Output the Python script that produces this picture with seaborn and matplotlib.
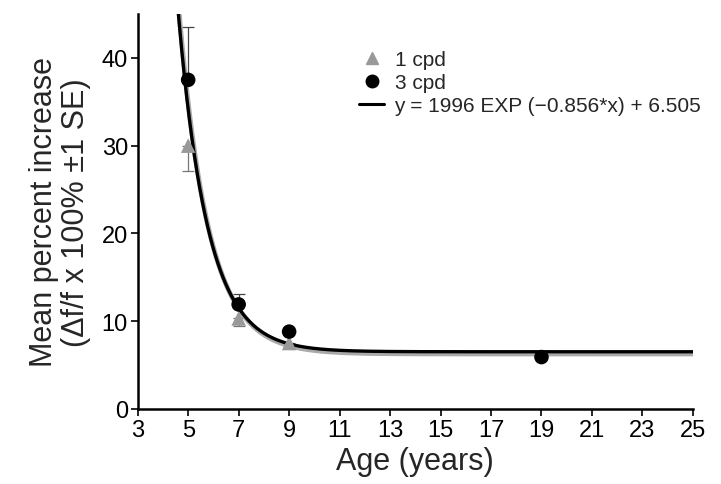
import numpy as np
import pandas as pd
import matplotlib
matplotlib.use("Agg")
import matplotlib.pyplot as plt
import seaborn as sns
from matplotlib.lines import Line2D

sns.set_theme(style="ticks")
plt.rcParams['font.family'] = ['Liberation Sans', 'DejaVu Sans']

age_1cpd = [5, 7, 9]
val_1cpd = [30.0, 10.3, 7.5]
se_1cpd = [2.9, 0.9, 0.3]

age_3cpd = [5, 7, 9, 19]
val_3cpd = [37.5, 11.9, 8.8, 5.9]
se_3cpd = [6.0, 1.2, 0.3, 0.2]

fit_a, fit_b, fit_c = 1996, -0.856, 6.505
xticks = list(range(3, 26, 2))
yticks = [0, 10, 20, 30, 40]

fig = plt.figure(figsize=(7.21, 4.85), dpi=100)
ax = fig.add_axes([0.191, 0.155, 0.770, 0.814])

xs = np.linspace(4.5, 25, 600)
fit_df = pd.DataFrame({"x": xs, "y": fit_a * np.exp(fit_b * xs) + fit_c})
shadow_df = pd.DataFrame({"x": xs + 0.04, "y": fit_a * np.exp(fit_b * xs) + fit_c - 0.25})

sns.lineplot(data=shadow_df, x="x", y="y", ax=ax, color="#aaaaaa", lw=3.5, zorder=2)
sns.lineplot(data=fit_df, x="x", y="y", ax=ax, color="black", lw=2.4, zorder=3)

# one-sided error bars: lower for 1 cpd, upper for 3 cpd
ax.errorbar(age_1cpd, val_1cpd, yerr=[se_1cpd, [0] * len(se_1cpd)], fmt="none", ecolor="#777777",
            elinewidth=0.9, capsize=4, capthick=0.9, zorder=1)
ax.errorbar(age_3cpd, val_3cpd, yerr=[[0] * len(se_3cpd), se_3cpd], fmt="none", ecolor="#444444",
            elinewidth=0.9, capsize=4, capthick=0.9, zorder=1)

d1 = pd.DataFrame({"age": age_1cpd, "val": val_1cpd})
d3 = pd.DataFrame({"age": age_3cpd, "val": val_3cpd})
sns.scatterplot(data=d1, x="age", y="val", ax=ax, marker="^", color="#999999",
                s=110, edgecolor="none", zorder=4)
sns.scatterplot(data=d3, x="age", y="val", ax=ax, marker="o", color="black",
                s=110, edgecolor="none", zorder=5)

ax.set_xlim(3, 25)
ax.set_ylim(0, 45)
ax.set_xticks(xticks)
ax.set_yticks(yticks)
ax.tick_params(axis="both", labelsize=17, length=5, width=1.2, direction="out", pad=2, colors="black")
for s in ["top", "right"]:
    ax.spines[s].set_visible(False)
for s in ["left", "bottom"]:
    ax.spines[s].set_linewidth(1.8)
    ax.spines[s].set_color("black")

ax.set_xlabel("Age (years)", fontsize=22, labelpad=4)
ax.set_ylabel("Mean percent increase\n(\u0394f/f x 100% \u00b11 SE)", fontsize=22, labelpad=8, linespacing=1.05)

handles = [
    Line2D([], [], marker="^", color="#999999", ls="none", markersize=8),
    Line2D([], [], marker="o", color="black", ls="none", markersize=9),
    Line2D([], [], color="black", lw=2.2),
]
labels = ["1 cpd", "3 cpd", "y = 1996 EXP (\u22120.856*x) + 6.505"]
ax.legend(handles, labels, loc="upper left", bbox_to_anchor=(0.38, 0.935), frameon=False,
          fontsize=15, handlelength=1.2, handletextpad=0.5, labelspacing=0.2, borderpad=0)

fig.savefig("out.png", dpi=100)
